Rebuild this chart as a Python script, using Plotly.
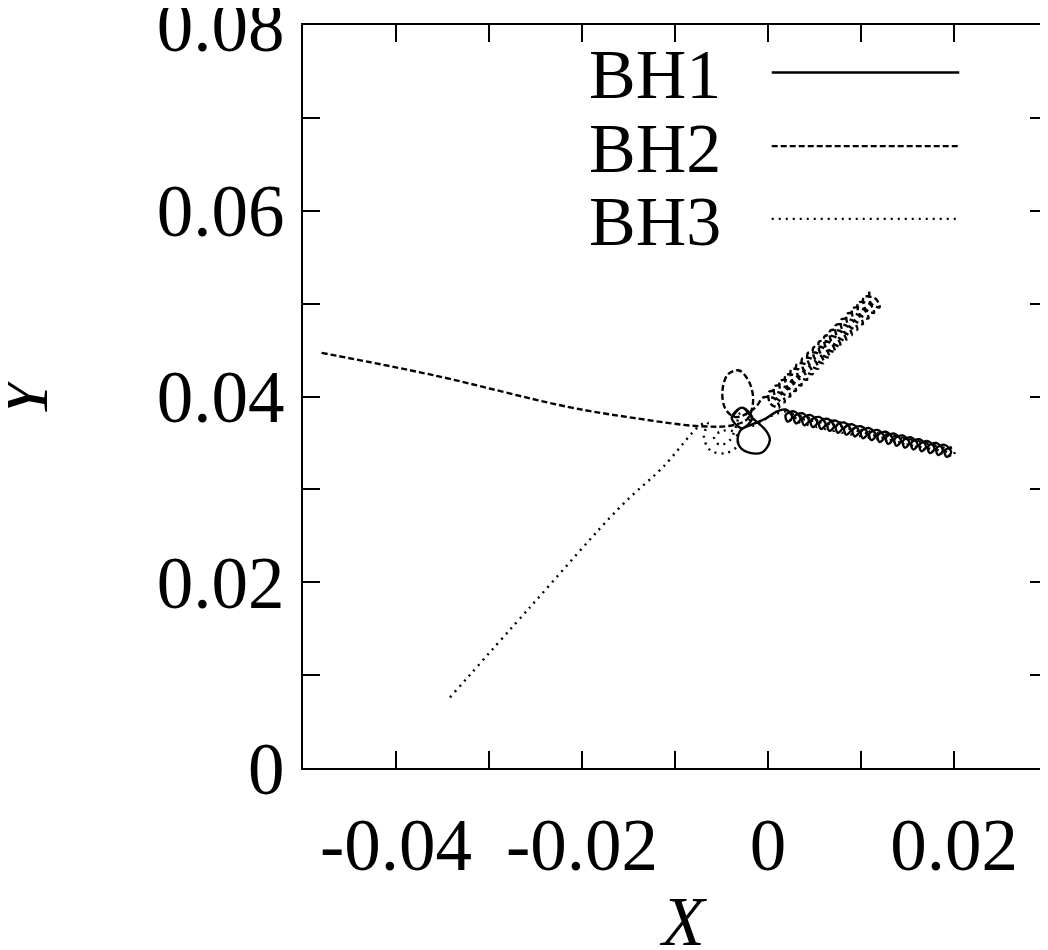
import plotly.graph_objects as go

# ---------------- data ----------------
# BH1 (solid): small loops near the centre, then the coiled lower-right arm
bh1_x = [-0.0039, -0.0028, -0.0017, -0.0028, -0.0039, -0.0028, -0.0017,
         -0.0002, 0.0002, -0.0006, -0.0022, -0.0032, -0.0030, -0.0017, -0.0003, 0.0008,
         0.0019, 0.0026, 0.0021, 0.0019,
         0.0028, 0.0035, 0.0030, 0.0028,
         0.0037, 0.0044, 0.0039, 0.0037,
         0.0046, 0.0053, 0.0048, 0.0046,
         0.0055, 0.0062, 0.0057, 0.0055,
         0.0064, 0.0071, 0.0066, 0.0064,
         0.0073, 0.0080, 0.0075, 0.0073,
         0.0082, 0.0089, 0.0084, 0.0082,
         0.0091, 0.0098, 0.0093, 0.0091,
         0.0100, 0.0107, 0.0102, 0.0100,
         0.0109, 0.0116, 0.0111, 0.0109,
         0.0118, 0.0125, 0.0120, 0.0118,
         0.0127, 0.0134, 0.0129, 0.0127,
         0.0136, 0.0143, 0.0138, 0.0136,
         0.0145, 0.0152, 0.0147, 0.0145,
         0.0154, 0.0161, 0.0156, 0.0154,
         0.0163, 0.0170, 0.0165, 0.0163,
         0.0172, 0.0179, 0.0174, 0.0172,
         0.0181, 0.0188, 0.0183, 0.0181,
         0.0190, 0.0197, 0.0192, 0.0190,
         0.0198]
bh1_y = [0.0377, 0.0388, 0.0377, 0.0366, 0.0377, 0.0388, 0.0377,
         0.0363, 0.0353, 0.0340, 0.0340, 0.0349, 0.0363, 0.0370, 0.0376, 0.0383,
         0.0386, 0.0378, 0.0373, 0.0380,
         0.0384, 0.0376, 0.0371, 0.0378,
         0.0382, 0.0374, 0.0369, 0.0376,
         0.0380, 0.0372, 0.0367, 0.0374,
         0.0378, 0.0370, 0.0365, 0.0372,
         0.0376, 0.0368, 0.0363, 0.0370,
         0.0374, 0.0366, 0.0361, 0.0368,
         0.0372, 0.0364, 0.0359, 0.0366,
         0.0370, 0.0362, 0.0357, 0.0364,
         0.0368, 0.0360, 0.0355, 0.0362,
         0.0366, 0.0358, 0.0353, 0.0360,
         0.0364, 0.0356, 0.0351, 0.0358,
         0.0362, 0.0354, 0.0349, 0.0356,
         0.0360, 0.0352, 0.0347, 0.0354,
         0.0358, 0.0350, 0.0345, 0.0352,
         0.0356, 0.0348, 0.0343, 0.0350,
         0.0354, 0.0346, 0.0341, 0.0348,
         0.0352, 0.0344, 0.0339, 0.0346,
         0.0350, 0.0342, 0.0337, 0.0344,
         0.0348, 0.0340, 0.0335, 0.0342,
         0.0345]

# BH2 (dashed): comes in from the left, loops above the centre, coils up-right
bh2_x = [-0.0480, -0.0360, -0.0216, -0.0145, -0.0073, -0.0038,
         -0.0022, -0.0016, -0.0020, -0.0031, -0.0043, -0.0049, -0.0046, -0.0036,
         -0.0022, -0.0012,
         -0.0005, 0.00075, 0.0012, 0.00025,
         0.0001, 0.00135, 0.0018, 0.00085,
         0.0007, 0.00195, 0.0024, 0.00145,
         0.0013, 0.00255, 0.0030, 0.00205,
         0.0019, 0.00315, 0.0036, 0.00265,
         0.0025, 0.00375, 0.0042, 0.00325,
         0.0031, 0.00435, 0.0048, 0.00385,
         0.0037, 0.00495, 0.0054, 0.00445,
         0.0043, 0.00555, 0.0060, 0.00505,
         0.0049, 0.00615, 0.0066, 0.00565,
         0.0055, 0.00675, 0.0072, 0.00625,
         0.0061, 0.00735, 0.0078, 0.00685,
         0.0067, 0.00795, 0.0084, 0.00745,
         0.0073, 0.00855, 0.0090, 0.00805,
         0.0079, 0.00915, 0.0096, 0.00865,
         0.0085, 0.00975, 0.0102, 0.00925,
         0.0091, 0.01035, 0.0108, 0.00985,
         0.0097, 0.01095, 0.0114, 0.01045,
         0.0103, 0.01155, 0.0120, 0.01105,
         0.0109]
bh2_y = [0.0447, 0.0423, 0.0389, 0.0377, 0.0368, 0.0369,
         0.0376, 0.0395, 0.0415, 0.0428, 0.0424, 0.0406, 0.0387, 0.0378,
         0.0382, 0.0390,
         0.0399, 0.03975, 0.0388, 0.03925,
         0.0405, 0.04035, 0.0394, 0.03985,
         0.0411, 0.04095, 0.0400, 0.04045,
         0.0417, 0.04155, 0.0406, 0.04105,
         0.0423, 0.04215, 0.0412, 0.04165,
         0.0429, 0.04275, 0.0418, 0.04225,
         0.0435, 0.04335, 0.0424, 0.04285,
         0.0441, 0.04395, 0.0430, 0.04345,
         0.0447, 0.04455, 0.0436, 0.04405,
         0.0453, 0.04515, 0.0442, 0.04465,
         0.0459, 0.04575, 0.0448, 0.04525,
         0.0465, 0.04635, 0.0454, 0.04585,
         0.0471, 0.04695, 0.0460, 0.04645,
         0.0477, 0.04755, 0.0466, 0.04705,
         0.0483, 0.04815, 0.0472, 0.04765,
         0.0489, 0.04875, 0.0478, 0.04825,
         0.0495, 0.04935, 0.0484, 0.04885,
         0.0501, 0.04995, 0.0490, 0.04945,
         0.0507, 0.05055, 0.0496, 0.05005,
         0.0513]

# BH3 (dotted): comes in from the lower left, loops left of the centre, coils lower-right
bh3_x = [-0.0342, -0.0256, -0.0159, -0.0113, -0.0073,
         -0.0065, -0.0069, -0.0062, -0.0046, -0.0033, -0.0035, -0.0049, -0.0058,
         -0.0052, -0.0041, -0.0034, -0.0030, -0.0022, -0.0017, -0.0006, 0.0008,
         0.00235, 0.00295, 0.00255, 0.00245,
         0.00325, 0.00385, 0.00345, 0.00335,
         0.00415, 0.00475, 0.00435, 0.00425,
         0.00505, 0.00565, 0.00525, 0.00515,
         0.00595, 0.00655, 0.00615, 0.00605,
         0.00685, 0.00745, 0.00705, 0.00695,
         0.00775, 0.00835, 0.00795, 0.00785,
         0.00865, 0.00925, 0.00885, 0.00875,
         0.00955, 0.01015, 0.00975, 0.00965,
         0.01045, 0.01105, 0.01065, 0.01055,
         0.01135, 0.01195, 0.01155, 0.01145,
         0.01225, 0.01285, 0.01245, 0.01235,
         0.01315, 0.01375, 0.01335, 0.01325,
         0.01405, 0.01465, 0.01425, 0.01415,
         0.01495, 0.01555, 0.01515, 0.01505,
         0.01585, 0.01645, 0.01605, 0.01595,
         0.01675, 0.01735, 0.01695, 0.01685,
         0.01765, 0.01825, 0.01785, 0.01775,
         0.01855, 0.01915, 0.01875, 0.01865,
         0.01945, 0.02005, 0.01965, 0.01955]
bh3_y = [0.0076, 0.0173, 0.0281, 0.0324, 0.0369,
         0.0372, 0.0357, 0.0342, 0.0339, 0.0347, 0.0361, 0.0363, 0.0356,
         0.0348, 0.0353, 0.0369, 0.0382, 0.0380, 0.0369, 0.0374, 0.0381,
         0.0384, 0.0377, 0.0373, 0.0379,
         0.0382, 0.0375, 0.0371, 0.0377,
         0.0380, 0.0373, 0.0369, 0.0375,
         0.0378, 0.0371, 0.0367, 0.0373,
         0.0376, 0.0369, 0.0365, 0.0371,
         0.0374, 0.0367, 0.0363, 0.0369,
         0.0372, 0.0365, 0.0361, 0.0367,
         0.0370, 0.0363, 0.0359, 0.0365,
         0.0368, 0.0361, 0.0357, 0.0363,
         0.0366, 0.0359, 0.0355, 0.0361,
         0.0364, 0.0357, 0.0353, 0.0359,
         0.0362, 0.0355, 0.0351, 0.0357,
         0.0360, 0.0353, 0.0349, 0.0355,
         0.0358, 0.0351, 0.0347, 0.0353,
         0.0356, 0.0349, 0.0345, 0.0351,
         0.0354, 0.0347, 0.0343, 0.0349,
         0.0352, 0.0345, 0.0341, 0.0347,
         0.0350, 0.0343, 0.0339, 0.0345,
         0.0348, 0.0341, 0.0337, 0.0343,
         0.0346, 0.0339, 0.0335, 0.0341]

series_names = ["BH1", "BH2", "BH3"]
x_tickvals = [-0.05, -0.04, -0.03, -0.02, -0.01, 0.0, 0.01, 0.02, 0.03]
x_ticktext = ["", "-0.04", "", "-0.02", "", "0", "", "0.02", ""]
y_tickvals = [0.0, 0.01, 0.02, 0.03, 0.04, 0.05, 0.06, 0.07, 0.08]
y_ticktext = ["0", "", "0.02", "", "0.04", "", "0.06", "", "0.08"]

# ---------------- styling ----------------
FONT = "Liberation Serif"
dashes = ["solid", "6px,3px", "2px,5px"]
LW = 2.4

fig = go.Figure()
for name, xs, ys, d in zip(series_names, [bh1_x, bh2_x, bh3_x],
                           [bh1_y, bh2_y, bh3_y], dashes):
    fig.add_trace(go.Scatter(x=xs, y=ys, mode="lines", name=name,
                             line=dict(color="black", width=LW, dash=d,
                                       shape="spline", smoothing=1.0),
                             showlegend=False))

axis_common = dict(showline=True, linecolor="black", linewidth=2, mirror="ticks",
                   ticks="inside", ticklen=17, tickwidth=2, tickcolor="black",
                   showgrid=False, zeroline=False, automargin=False,
                   ticklabeloverflow="allow",
                   tickfont=dict(family=FONT, size=73, color="black"))

# the page body has an 8px margin, so the margins are shifted to compensate
fig.update_layout(
    width=1048, height=950,
    margin=dict(l=295, r=9, t=17, b=190),
    paper_bgcolor="white", plot_bgcolor="white",
    showlegend=False,
    xaxis=dict(range=[-0.05, 0.03], tickmode="array", tickvals=x_tickvals,
               ticktext=x_ticktext, ticklabelstandoff=12, **axis_common),
    yaxis=dict(range=[0.0, 0.08], tickmode="array", tickvals=y_tickvals,
               ticktext=y_ticktext, ticklabelstandoff=2, **axis_common),
)

# gnuplot-style key: label on the left, line sample on the right
key_y = [0.933, 0.834, 0.736]
for name, d, ky in zip(series_names, dashes, key_y):
    fig.add_annotation(xref="paper", yref="paper", x=0.565, y=ky, text=name,
                       showarrow=False, xanchor="right", yanchor="middle",
                       font=dict(family=FONT, size=70, color="black"))
    fig.add_shape(type="line", xref="paper", yref="paper",
                  x0=0.630, x1=0.882, y0=ky + 0.003, y1=ky + 0.003,
                  line=dict(color="black", width=LW, dash=d))

# axis titles
fig.add_annotation(xref="paper", yref="paper", x=0.511, y=-0.207, text="<i>X</i>",
                   showarrow=False, xanchor="center", yanchor="middle",
                   font=dict(family=FONT, size=70, color="black"))
fig.add_annotation(xref="paper", yref="paper", x=-0.376, y=0.502, text="<i>Y</i>",
                   showarrow=False, xanchor="center", yanchor="middle", textangle=-90,
                   font=dict(family=FONT, size=70, color="black"))

fig.write_html("out.html")
